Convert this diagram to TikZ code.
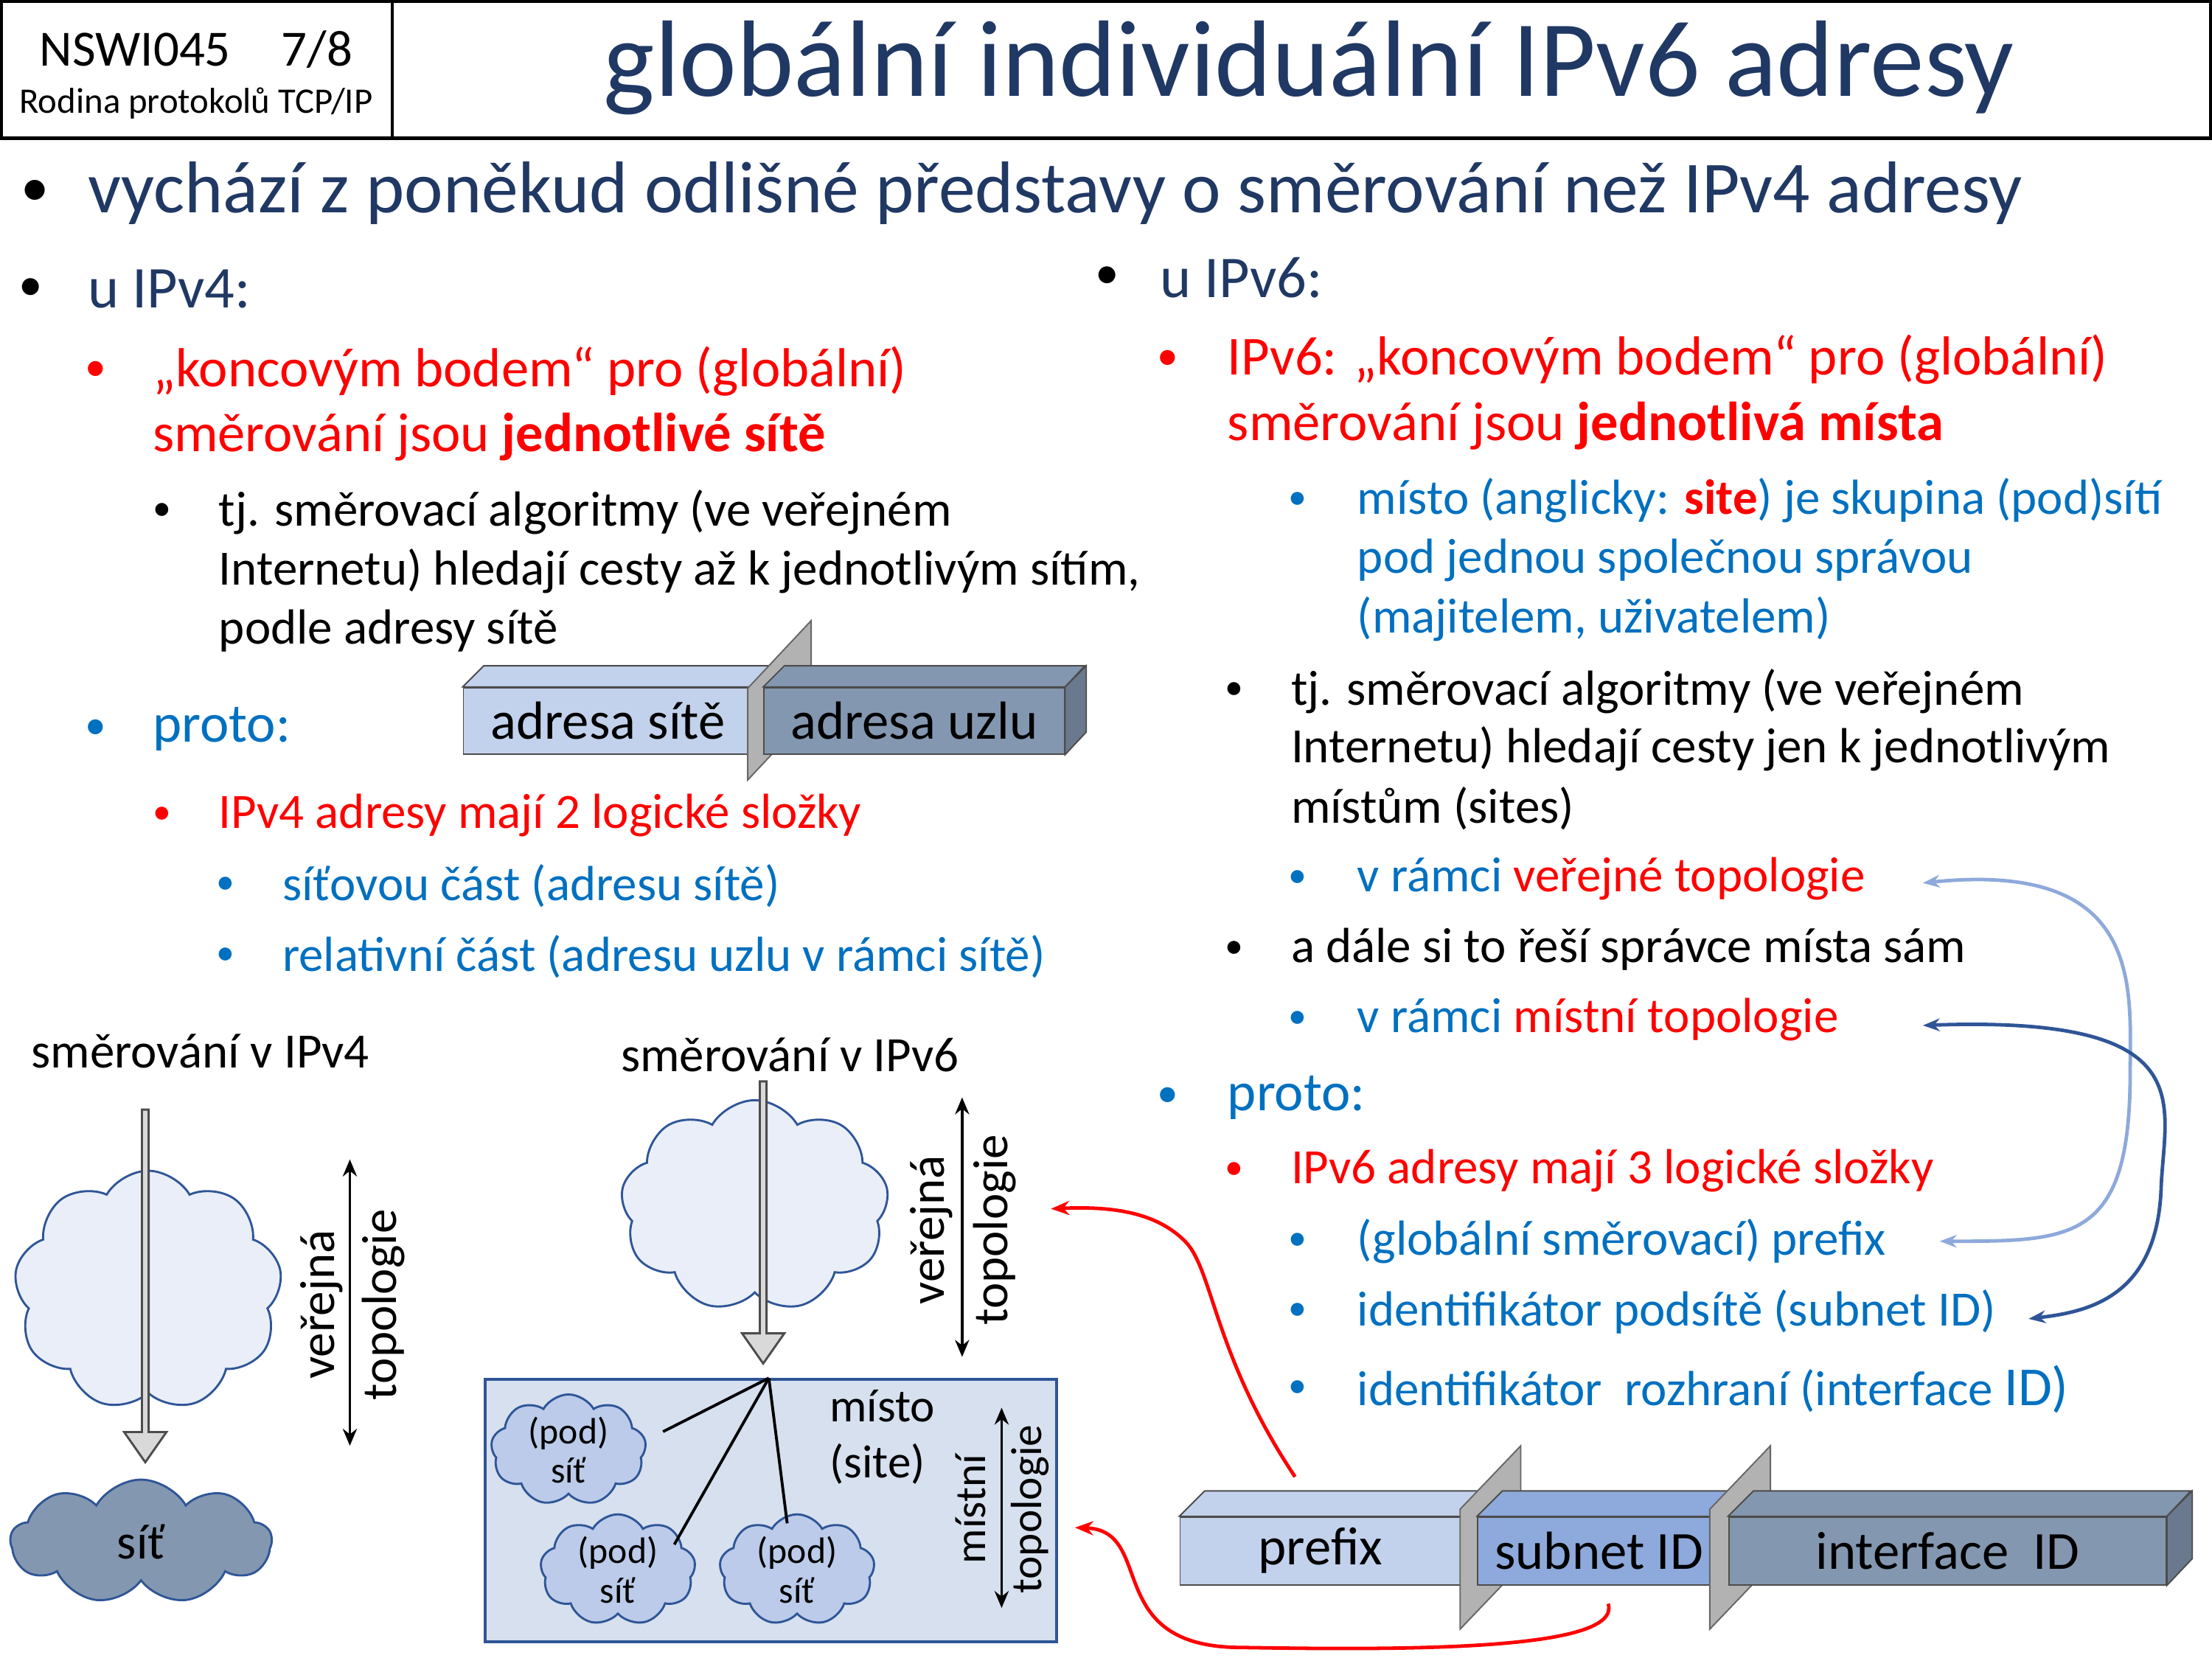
\documentclass[tikz,border=0pt]{standalone}
\usepackage{fontspec}
\setmainfont{Carlito}
\usetikzlibrary{shapes.symbols,shapes.arrows,arrows.meta}
\definecolor{tblue}{HTML}{203864}
\definecolor{bblue}{HTML}{0070C0}
\definecolor{rred}{HTML}{FF0000}
\definecolor{lbox}{HTML}{B4C7E7}
\definecolor{mbox}{HTML}{8EA9DB}
\definecolor{dbox}{HTML}{8497B0}
\definecolor{cloudl}{HTML}{E9EEF8}
\definecolor{sitebg}{HTML}{D6E0EE}
\definecolor{edge}{HTML}{2F5597}
\newcommand{\fs}[1]{\fontsize{#1}{#1}\selectfont}
\begin{document}
\begin{tikzpicture}[x=1pt,y=-1pt,
  txt/.style={anchor=west,inner sep=0pt},
  bul/.style={anchor=center,inner sep=0pt},
  facebox/.style={draw=black!70,line width=1pt,inner sep=0pt,anchor=north west},
  slab/.style={draw=black!60,fill=black!30,line width=1pt},
  bigarrow/.style={single arrow,draw=black!70,fill=black!15,line width=1.5pt,minimum width=30,single arrow head extend=4,single arrow tip angle=70,inner sep=0pt,rotate=-90},
  dbl/.style={{Stealth[length=12pt,width=10pt]}-{Stealth[length=12pt,width=10pt]},line width=2pt},
  puff/.style={cloud,cloud puffs=9,cloud puff arc=120,aspect=1.2,draw=edge,line width=1.5pt},
  subnet/.style={puff,fill=mbox!60,minimum width=110,minimum height=68,align=center,inner sep=0pt,font=\fs{26}}]
\useasboundingbox (0,0) rectangle (1568,1175);
% header
\draw[line width=2.5pt] (1,1) rectangle (278,98);
\draw[line width=2.5pt] (278,1) -- (1567,1) -- (1567,98) -- (278,98);
\node[bul] (code) at (139,35) {\fs{36}NSWI045\quad 7/8};
\node[bul] (sub) at (139,73) {\fs{25.5}Rodina protokolů TCP/IP};
\node[bul,text=tblue] (title) at (928,48) {\fs{77}globální individuální IPv6 adresy};
% main bullet
\node[bul] (b0) at (25,137) {\fs{40}•};
\node[txt,text=tblue] (t0) at (62,137) {\fs{52}vychází z poněkud odlišné představy o směrování než IPv4 adresy};
% left column
\node[bul] (b1) at (22,205) {\fs{34}•};
\node[txt,text=tblue] (t1) at (62,205) {\fs{42}u IPv4:};
\node[bul,text=rred] (b2) at (68,263) {\fs{30}•};
\node[txt,text=rred] (t2a) at (108,263) {\fs{39}„koncovým bodem“ pro (globální)};
\node[txt,text=rred] (t2b) at (108,310) {\fs{39}směrování jsou \textbf{jednotlivé sítě}};
\node[bul] (b3) at (115,363) {\fs{26}•};
\node[txt] (t3a) at (155,363) {\fs{35}tj. směrovací algoritmy (ve veřejném};
\node[txt] (t3b) at (155,405) {\fs{35}Internetu) hledají cesty až k jednotlivým sítím,};
\node[txt] (t3c) at (155,447) {\fs{35}podle adresy sítě};
\node[bul,text=bblue] (b4) at (68,517) {\fs{30}•};
\node[txt,text=bblue] (t4) at (108,517) {\fs{39}proto:};
\node[bul,text=rred] (b5) at (115,578) {\fs{26}•};
\node[txt,text=rred] (t5) at (155,578) {\fs{35}IPv4 adresy mají 2 logické složky};
\node[bul,text=bblue] (b6) at (160,628) {\fs{26}•};
\node[txt,text=bblue] (t6) at (200,628) {\fs{35}síťovou část (adresu sítě)};
\node[bul,text=bblue] (b7) at (160,678) {\fs{26}•};
\node[txt,text=bblue] (t7) at (200,678) {\fs{35}relativní část (adresu uzlu v rámci sítě)};
% IPv4 address boxes
\node[facebox,fill=lbox!80,minimum width=205,minimum height=47] (as) at (328,487) {\fs{38}adresa sítě};
\draw[draw=black!70,fill=lbox!80,line width=1pt] (as.north west) -- ++(15,-15) -- ++(205,0) -- (as.north east) -- cycle;
\draw[slab] (530,488) -- (575,440) -- (575,505) -- (530,553) -- cycle;
\node[facebox,fill=dbox,minimum width=213,minimum height=47] (au) at (541,487) {\fs{38}adresa uzlu};
\draw[draw=black!70,fill=dbox,line width=1pt] (au.north west) -- ++(15,-15) -- ++(213,0) -- (au.north east) -- cycle;
\draw[draw=black!70,fill=dbox!80!black,line width=1pt] (au.north east) -- ++(15,-15) -- ++(0,47) -- (au.south east) -- cycle;
% right column
\node[bul] (r1) at (785,197) {\fs{34}•};
\node[txt,text=tblue] (rt1) at (822,197) {\fs{42}u IPv6:};
\node[bul,text=rred] (r2) at (828,255) {\fs{30}•};
\node[txt,text=rred] (rt2a) at (870,255) {\fs{39}IPv6: „koncovým bodem“ pro (globální)};
\node[txt,text=rred] (rt2b) at (870,302) {\fs{39}směrování jsou \textbf{jednotlivá místa}};
\node[bul,text=bblue] (r3) at (920,355) {\fs{26}•};
\node[txt,text=bblue] (rt3a) at (962,355) {\fs{35}místo (anglicky: \textcolor{rred}{\textbf{site}}) je skupina (pod)sítí};
\node[txt,text=bblue] (rt3b) at (962,397) {\fs{35}pod jednou společnou správou};
\node[txt,text=bblue] (rt3c) at (962,439) {\fs{35}(majitelem, uživatelem)};
\node[bul] (r4) at (875,490) {\fs{26}•};
\node[txt] (rt4a) at (915,490) {\fs{35}tj. směrovací algoritmy (ve veřejném};
\node[txt] (rt4b) at (915,531) {\fs{35}Internetu) hledají cesty jen k jednotlivým};
\node[txt] (rt4c) at (915,573) {\fs{35}místům (sites)};
\node[bul,text=bblue] (r5) at (920,623) {\fs{26}•};
\node[txt,text=bblue] (rt5) at (962,623) {\fs{35}v rámci \textcolor{rred}{veřejné topologie}};
\node[bul] (r6) at (875,673) {\fs{26}•};
\node[txt] (rt6) at (915,673) {\fs{35}a dále si to řeší správce místa sám};
\node[bul,text=bblue] (r7) at (920,723) {\fs{26}•};
\node[txt,text=bblue] (rt7) at (962,723) {\fs{35}v rámci \textcolor{rred}{místní topologie}};
\node[bul,text=bblue] (r8) at (828,778) {\fs{30}•};
\node[txt,text=bblue] (rt8) at (870,778) {\fs{39}proto:};
\node[bul,text=rred] (r9) at (875,830) {\fs{26}•};
\node[txt,text=rred] (rt9) at (915,830) {\fs{35}IPv6 adresy mají 3 logické složky};
\node[bul,text=bblue] (r10) at (920,880) {\fs{26}•};
\node[txt,text=bblue] (rt10) at (962,880) {\fs{35}(globální směrovací) prefix};
\node[bul,text=bblue] (r11) at (920,930) {\fs{26}•};
\node[txt,text=bblue] (rt11) at (962,930) {\fs{35}identifikátor podsítě (subnet ID)};
\node[bul,text=bblue] (r12) at (920,985) {\fs{26}•};
\node[txt,text=bblue] (rt12) at (962,985) {\fs{35}identifikátor\ \ rozhraní (interface \fs{39}ID)};
% blue curved arrows
\draw[{Stealth[length=12pt,width=9pt]}-{Stealth[length=12pt,width=9pt]},line width=2.5pt,draw=mbox]
  (1363,626) .. controls (1520,610) and (1510,700) .. (1510,760) .. controls (1510,880) and (1470,880) .. (1375,880);
\draw[{Stealth[length=12pt,width=9pt]}-{Stealth[length=12pt,width=9pt]},line width=2.5pt,draw=edge]
  (1363,727) .. controls (1560,720) and (1535,780) .. (1532,840) .. controls (1530,920) and (1480,930) .. (1438,935);
% bottom left diagram
\node[txt] (h4) at (22,745) {\fs{35}směrování v IPv4};
\node[puff,fill=cloudl,minimum width=190,minimum height=170] (c4) at (105,915) {};
\node[puff,fill=dbox,minimum width=185,minimum height=88] (net) at (100,1093) {\fs{35}síť};
\node[bigarrow,minimum height=250] (a4) at (103,910) {};
\coordinate (v4t) at (248,822); \coordinate (v4b) at (248,1025);
\draw[dbl] (v4t) -- (v4b);
\node[bul,rotate=90] (v4a) at (228,925) {\fs{35}veřejná};
\node[bul,rotate=90] (v4c) at (272,925) {\fs{35}topologie};
% bottom middle diagram
\node[bul] (h6) at (560,748) {\fs{35}směrování v IPv6};
\node[puff,fill=cloudl,minimum width=190,minimum height=150] (c6) at (535,855) {};
\node[draw=edge,line width=2pt,fill=sitebg,minimum width=405,minimum height=186,inner sep=0pt,anchor=north west] (site) at (343,977) {};
\node[bigarrow,minimum height=200] (a6) at (541,865) {};
\coordinate (hub) at (545,977);
\node[subnet] (s1) at (403,1028) {(pod)\\[2pt]síť};
\node[subnet] (s2) at (438,1113) {(pod)\\[2pt]síť};
\node[subnet] (s3) at (565,1113) {(pod)\\[2pt]síť};
\draw[line width=2pt] (hub) -- (470,1015);
\draw[line width=2pt] (hub) -- (478,1095);
\draw[line width=2pt] (hub) -- (558,1080);
\node[txt] (m1) at (588,997) {\fs{33}místo};
\node[txt] (m2) at (588,1038) {\fs{33}(site)};
\coordinate (v6t) at (682,778); \coordinate (v6b) at (682,962);
\draw[dbl] (v6t) -- (v6b);
\node[bul,rotate=90] (v6a) at (660,872) {\fs{35}veřejná};
\node[bul,rotate=90] (v6c) at (705,872) {\fs{35}topologie};
\coordinate (l6t) at (710,998); \coordinate (l6b) at (710,1140);
\draw[dbl] (l6t) -- (l6b);
\node[bul,rotate=90] (l6a) at (688,1070) {\fs{31}místní};
\node[bul,rotate=90] (l6c) at (730,1070) {\fs{31}topologie};
% IPv6 address boxes
\node[facebox,fill=lbox!80,minimum width=199,minimum height=48] (pfx) at (836,1075) {\fs{38}prefix};
\draw[draw=black!70,fill=lbox!80,line width=1pt] (pfx.north west) -- ++(18,-18) -- ++(199,0) -- (pfx.north east) -- cycle;
\draw[slab] (1035,1070) -- (1078,1025) -- (1078,1110) -- (1035,1155) -- cycle;
\node[facebox,fill=mbox,minimum width=172,minimum height=48] (sid) at (1047,1075) {\fs{38}subnet ID};
\draw[draw=black!70,fill=mbox,line width=1pt] (sid.north west) -- ++(18,-18) -- ++(172,0) -- (sid.north east) -- cycle;
\draw[slab] (1212,1070) -- (1255,1025) -- (1255,1110) -- (1212,1155) -- cycle;
\node[facebox,fill=dbox,minimum width=310,minimum height=48] (iid) at (1225,1075) {\fs{38}interface\ \ ID};
\draw[draw=black!70,fill=dbox,line width=1pt] (iid.north west) -- ++(18,-18) -- ++(310,0) -- (iid.north east) -- cycle;
\draw[draw=black!70,fill=dbox!80!black,line width=1pt] (iid.north east) -- ++(18,-18) -- ++(0,48) -- (iid.south east) -- cycle;
% red arrows
\coordinate (pt) at (918,1047);
\coordinate (pe) at (745,857);
\draw[-{Stealth[length=13pt,width=10pt]},line width=2.5pt,draw=rred]
  (pt) .. controls (860,960) and (860,900) .. (840,880) .. controls (820,860) and (790,855) .. (pe);
\coordinate (sb) at (1140,1137);
\coordinate (le) at (762,1083);
\draw[-{Stealth[length=13pt,width=10pt]},line width=2.5pt,draw=rred]
  (sb) .. controls (1150,1170) and (1000,1170) .. (880,1168) .. controls (780,1168) and (820,1085) .. (le);
\end{tikzpicture}
\end{document}
